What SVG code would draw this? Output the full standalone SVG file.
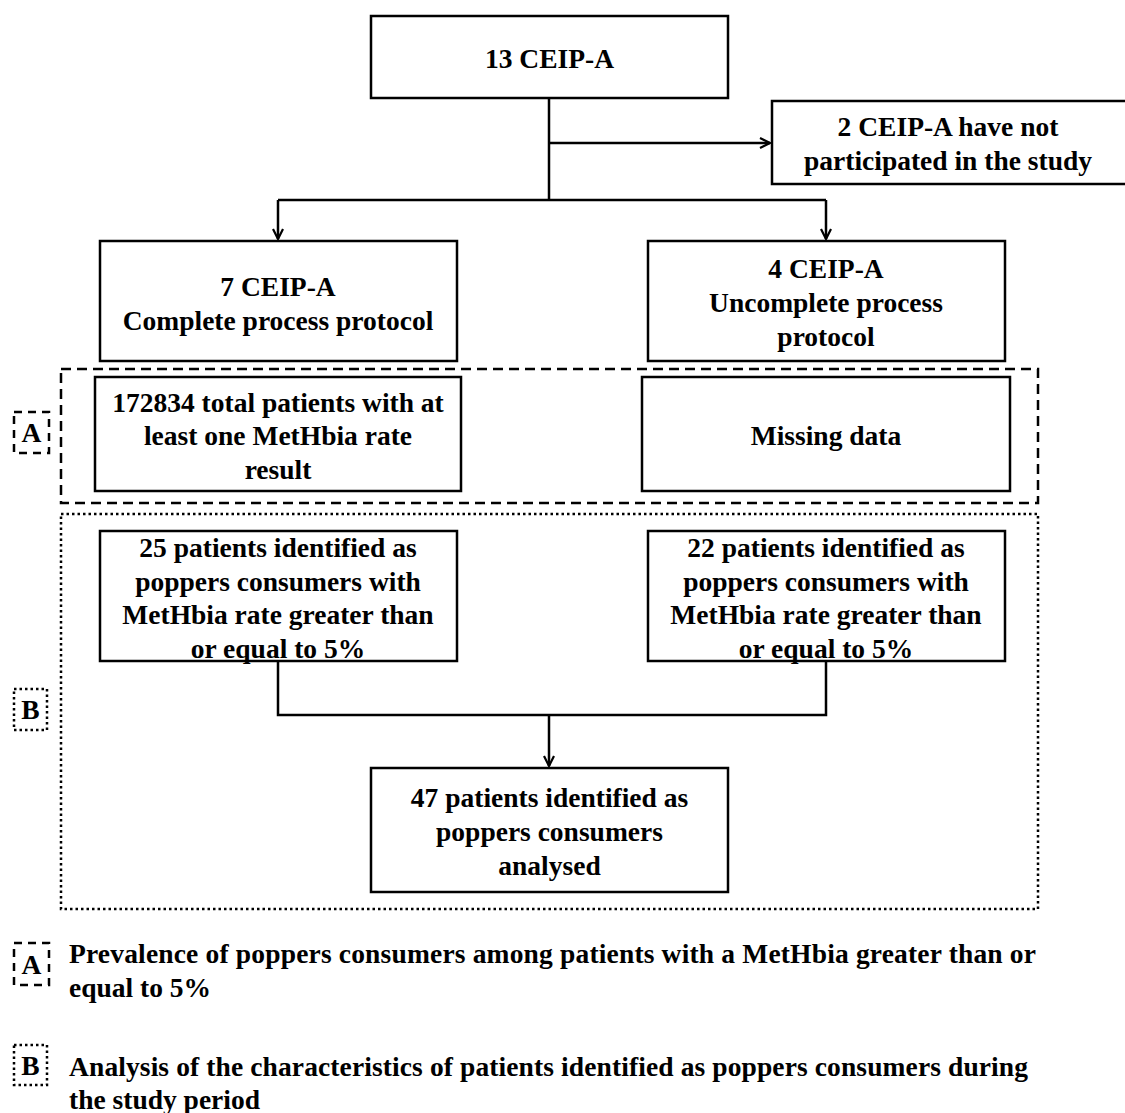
<svg xmlns="http://www.w3.org/2000/svg" width="1125" height="1113" viewBox="0 0 1125 1113">
<defs>
<style>
.box{fill:#fff;stroke:#000;stroke-width:2.5}
.t{font-family:"Liberation Serif","Times New Roman",serif;font-weight:bold;font-size:27.5px;fill:#000;text-anchor:middle}
.l{font-family:"Liberation Serif","Times New Roman",serif;font-weight:bold;font-size:27.5px;fill:#000}
.dash{fill:none;stroke:#000;stroke-width:2.5;stroke-dasharray:10 6}
.dot{fill:none;stroke:#000;stroke-width:2.5;stroke-dasharray:2.5 3}
.c{fill:none;stroke:#000;stroke-width:2.5}
</style>
<marker id="arr" markerWidth="14" markerHeight="14" refX="11" refY="6" orient="auto" markerUnits="userSpaceOnUse">
<path d="M1,1 L11,6 L1,11" fill="none" stroke="#000" stroke-width="2.2"/>
</marker>
</defs>
<rect width="1125" height="1113" fill="#fff"/>

<g id="regions">
<rect class="dash" x="61" y="369" width="977" height="134"/>
<rect class="dot" x="61" y="514" width="977" height="395"/>
</g>

<g id="connectors">
<path class="c" d="M549,98 V200"/>
<path class="c" d="M549,143 H770" marker-end="url(#arr)"/>
<path class="c" d="M278,200 H826"/>
<path class="c" d="M278,200 V239" marker-end="url(#arr)"/>
<path class="c" d="M826,200 V239" marker-end="url(#arr)"/>
<path class="c" d="M278,661 V715 H826 V661"/>
<path class="c" d="M549,715 V766" marker-end="url(#arr)"/>
</g>

<g id="n1"><rect class="box" x="371" y="16" width="357" height="82"/>
<text class="t" x="549.5" y="68">13 CEIP-A</text></g>

<g id="n2"><rect class="box" x="772" y="101" width="360" height="83"/>
<text class="t" x="948" y="136">2 CEIP-A have not</text>
<text class="t" x="948" y="170">participated in the study</text></g>

<g id="n3"><rect class="box" x="100" y="241" width="357" height="120"/>
<text class="t" x="278" y="296">7 CEIP-A</text>
<text class="t" x="278" y="330">Complete process protocol</text></g>

<g id="n4"><rect class="box" x="648" y="241" width="357" height="120"/>
<text class="t" x="826" y="278">4 CEIP-A</text>
<text class="t" x="826" y="312">Uncomplete process</text>
<text class="t" x="826" y="346">protocol</text></g>

<g id="n5"><rect class="box" x="95" y="377" width="366" height="114"/>
<text class="t" x="278" y="412">172834 total patients with at</text>
<text class="t" x="278" y="445">least one MetHbia rate</text>
<text class="t" x="278" y="479">result</text></g>

<g id="n6"><rect class="box" x="642" y="377" width="368" height="114"/>
<text class="t" x="826" y="445">Missing data</text></g>

<g id="n7"><rect class="box" x="100" y="531" width="357" height="130"/>
<text class="t" x="278" y="557">25 patients identified as</text>
<text class="t" x="278" y="591">poppers consumers with</text>
<text class="t" x="278" y="624">MetHbia rate greater than</text>
<text class="t" x="278" y="658">or equal to 5%</text></g>

<g id="n8"><rect class="box" x="648" y="531" width="357" height="130"/>
<text class="t" x="826" y="557">22 patients identified as</text>
<text class="t" x="826" y="591">poppers consumers with</text>
<text class="t" x="826" y="624">MetHbia rate greater than</text>
<text class="t" x="826" y="658">or equal to 5%</text></g>

<g id="n9"><rect class="box" x="371" y="768" width="357" height="124"/>
<text class="t" x="549.5" y="807">47 patients identified as</text>
<text class="t" x="549.5" y="841">poppers consumers</text>
<text class="t" x="549.5" y="875">analysed</text></g>

<g id="labelA"><rect class="dash" x="14" y="412" width="35" height="41" style="stroke-dasharray:8 6"/>
<text class="t" x="31.5" y="442">A</text></g>
<g id="labelB"><rect class="dot" x="14" y="689" width="33" height="41"/>
<text class="t" x="30.5" y="719">B</text></g>

<g id="legend">
<rect class="dash" x="14" y="943" width="35" height="42" style="stroke-dasharray:8 6"/>
<text class="t" x="31.5" y="974">A</text>
<text class="l" x="69" y="963" textLength="967" lengthAdjust="spacing">Prevalence of poppers consumers among patients with a MetHbia greater than or</text>
<text class="l" x="69" y="997">equal to 5%</text>
<rect class="dot" x="14" y="1045" width="33" height="40"/>
<text class="t" x="30.5" y="1075">B</text>
<text class="l" x="69" y="1076" textLength="959" lengthAdjust="spacing">Analysis of the characteristics of patients identified as poppers consumers during</text>
<text class="l" x="69" y="1109">the study period</text>
</g>
</svg>
